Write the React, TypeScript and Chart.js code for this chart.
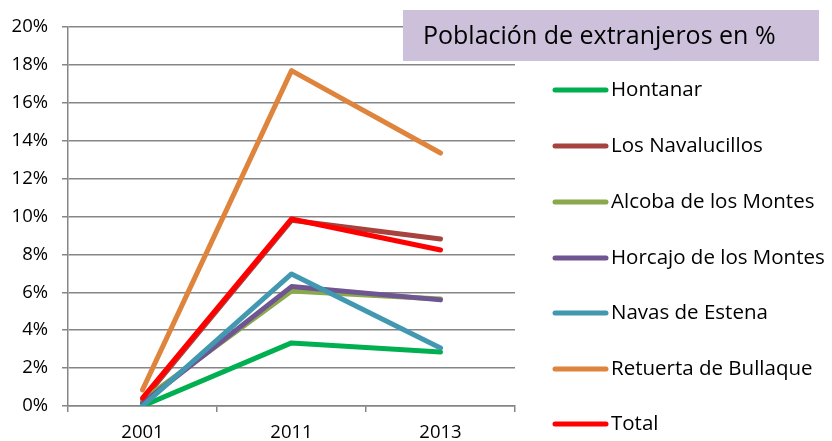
import React, { useEffect, useRef } from "react";
import { Chart, registerables } from "chart.js";

Chart.register(...registerables);

const years = ["2001", "2011", "2013"];
const seriesNames = [
  "Hontanar",
  "Los Navalucillos",
  "Alcoba de los Montes",
  "Horcajo de los Montes",
  "Navas de Estena",
  "Retuerta de Bullaque",
  "Total",
];
const hontanar = [0, 3.33, 2.85];
const losNavalucillos = [0.3, 9.8, 8.81];
const alcoba = [0.3, 6.07, 5.65];
const horcajo = [0.15, 6.3, 5.6];
const navas = [0, 6.97, 3.06];
const retuerta = [0.85, 17.7, 13.35];
const total = [0.42, 9.87, 8.23];
const seriesValues = [hontanar, losNavalucillos, alcoba, horcajo, navas, retuerta, total];
const seriesColors = ["#00B050", "#A6433F", "#8AA84C", "#6F5592", "#4198B0", "#DE843C", "#FF0000"];
const yTicks = [0, 2, 4, 6, 8, 10, 12, 14, 16, 18, 20];
const titleText = "Población de extranjeros en %";

const FONT = "'Open Sans', 'Liberation Sans', sans-serif";

const overlayPlugin = {
  id: "overlay",
  afterDraw(chart: any) {
    const ctx = chart.ctx;
    ctx.save();
    // title box
    ctx.fillStyle = "#CCC0DA";
    ctx.fillRect(403, 10, 416, 51);
    ctx.fillStyle = "#000";
    ctx.font = `25px ${FONT}`;
    ctx.textBaseline = "middle";
    ctx.textAlign = "left";
    ctx.fillText(titleText, 423, 37);
    // legend
    const ys = [90, 146, 202, 258, 313, 369, 424];
    ctx.font = `20.5px ${FONT}`;
    seriesNames.forEach((name, i) => {
      const y = ys[i];
      ctx.strokeStyle = seriesColors[i];
      ctx.lineWidth = 5;
      ctx.lineCap = "round";
      ctx.beginPath();
      ctx.moveTo(555, y);
      ctx.lineTo(606, y);
      ctx.stroke();
      ctx.fillStyle = "#000";
      ctx.fillText(name, 611, y);
    });
    ctx.restore();
  },
};

export default function App() {
  const ref = useRef<HTMLCanvasElement | null>(null);
  useEffect(() => {
    if (!ref.current) return;
    const n = seriesNames.length;
    const chart = new Chart(ref.current, {
      type: "line",
      data: {
        labels: years,
        datasets: seriesNames.map((name, i) => ({
          label: name,
          data: seriesValues[i],
          borderColor: seriesColors[i],
          backgroundColor: seriesColors[i],
          borderWidth: 5,
          pointRadius: 0,
          tension: 0,
          borderCapStyle: "round" as const,
          borderJoinStyle: "round" as const,
          order: n - i,
        })),
      },
      options: {
        animation: false,
        responsive: false,
        maintainAspectRatio: false,
        layout: { padding: { left: 0, right: 317, top: 27, bottom: 0 } },
        plugins: {
          legend: { display: false },
          tooltip: { enabled: false },
          title: { display: false },
        },
        scales: {
          x: {
            offset: true,
            grid: {
              offset: true,
              drawOnChartArea: false,
              drawTicks: true,
              tickLength: 6,
              color: "#868686",
              lineWidth: 1.5,
            },
            border: { display: true, color: "#868686", width: 1.5 },
            ticks: {
              color: "#000",
              font: { family: FONT, size: 18.5 },
              padding: 10,
            },
            afterFit: (s: any) => {
              s.height = 35;
            },
          },
          y: {
            min: 0,
            max: 20,
            afterBuildTicks: (s: any) => {
              s.ticks = yTicks.map((v) => ({ value: v }));
            },
            grid: {
              color: "#868686",
              lineWidth: 1.5,
              tickLength: 6,
            },
            border: { display: true, color: "#868686", width: 1.5 },
            ticks: {
              color: "#000",
              font: { family: FONT, size: 18.5 },
              padding: 14,
              callback: (v: any) => `${v}%`,
            },
            afterFit: (s: any) => {
              s.width = 68;
            },
          },
        },
      },
      plugins: [overlayPlugin],
    });
    return () => chart.destroy();
  }, []);
  return (
    <div style={{ position: "fixed", left: 0, top: 0, width: 832, height: 441, background: "#fff" }}>
      <canvas ref={ref} width={832} height={441} style={{ display: "block" }} />
    </div>
  );
}
